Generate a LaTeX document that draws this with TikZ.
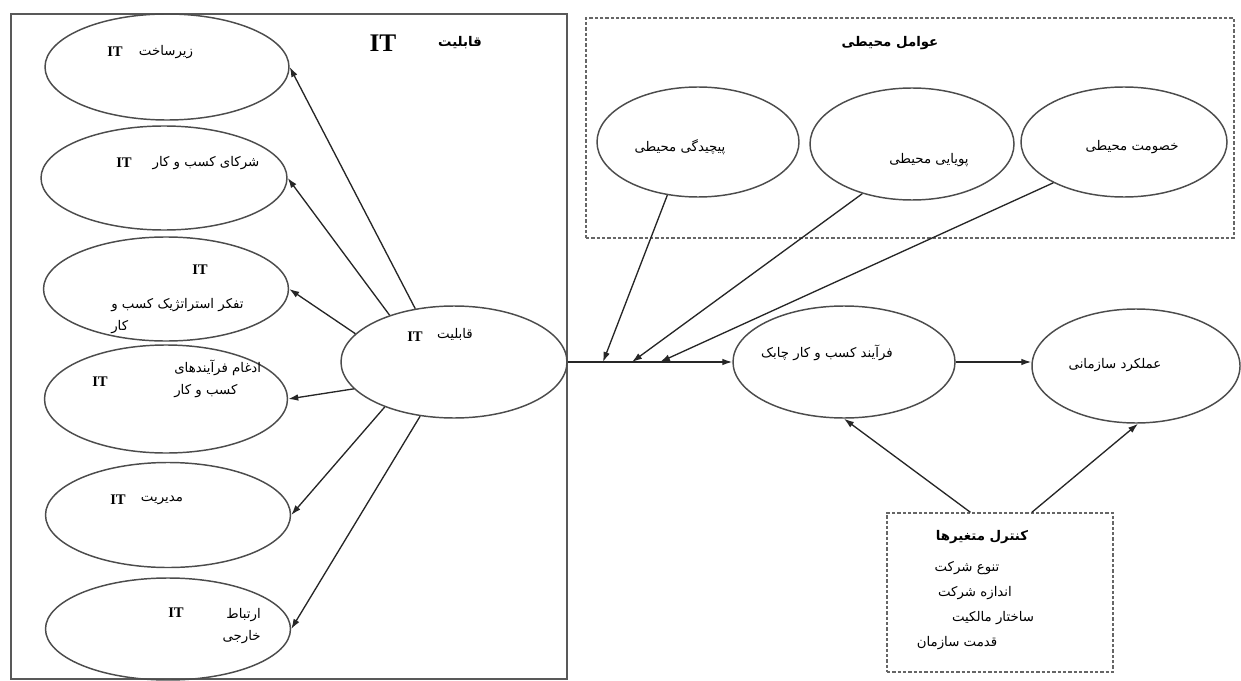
\documentclass[tikz,border=0pt]{standalone}
\usepackage{fontspec}
\usetikzlibrary{shapes,arrows,arrows.meta,positioning,calc}
\newfontfamily\fa[Script=Arabic]{DejaVu Sans}
\newfontfamily\lat{Liberation Serif}
\TeXXeTstate=1
\newcommand{\fat}[1]{{\fa\beginR #1\endR}}
\newcommand{\itx}{{\lat\fontsize{11}{12}\selectfont\bfseries IT}}

\begin{document}
\begin{tikzpicture}[x=0.75pt, y=-0.75pt, >={Latex[length=7.5pt,width=5pt]},
    bubble/.style 2 args={ellipse, draw=black!70, line width=1.1pt, minimum width=#1*0.75pt, minimum height=#2*0.75pt, inner sep=0pt},
    frame/.style 2 args={rectangle, line width=1pt, minimum width=#1*0.75pt, minimum height=#2*0.75pt, inner sep=0pt},
    dashframe/.style={draw=black!60, dash pattern=on 2.5pt off 1.5pt, line width=1pt},
    lbl/.style={font=\fontsize{10}{16.5}\selectfont, inner sep=0pt},
    link/.style={->, line width=1pt, black!85}]

    \useasboundingbox (0,0) rectangle (1241,681);

    % Left block: IT capability
    \node[frame={556}{665}, draw=black!65] (lb) at (289,346.5) {};
    \node[lbl] (ttit) at (383,43) {\lat\fontsize{19}{20}\selectfont\bfseries IT};
    \node[lbl, font=\fontsize{10}{11}\selectfont\bfseries] (ttfa) at (460,43) {\fat{قابلیت}};

    \node[bubble={244}{106}] (e1) at (167,67) {};
    \node[bubble={246}{104}] (e2) at (164,178) {};
    \node[bubble={245}{104}] (e3) at (166,289) {};
    \node[bubble={243}{108}] (e4) at (166,399) {};
    \node[bubble={245}{105}] (e5) at (168,515) {};
    \node[bubble={245}{102}] (e6) at (168,629) {};
    \node[bubble={226}{112}] (ci) at (454,362) {};

    % Labels
    \node[lbl] (e1it) at (115,52) {\itx};
    \node[lbl] (e1tx) at (166,52) {\fat{زیرساخت}};
    \node[lbl] (e2it) at (124,163) {\itx};
    \node[lbl] (e2tx) at (206,163) {\fat{شرکای کسب و کار}};
    \node[lbl] (e3it) at (200,270) {\itx};
    \node[lbl, anchor=west, align=left] (e3tx) at (111,316) {\fat{تفکر استراتژیک کسب و}\\\fat{کار}};
    \node[lbl] (e4it) at (100,382) {\itx};
    \node[lbl, anchor=west, align=left] (e4tx) at (174,379) {\fat{ادغام فرآیندهای}\\\fat{کسب و کار}};
    \node[lbl] (e5it) at (118,500) {\itx};
    \node[lbl] (e5tx) at (162,500) {\fat{مدیریت}};
    \node[lbl] (e6it) at (176,613) {\itx};
    \node[lbl, anchor=east, align=right] (e6tx) at (261,626) {\fat{ارتباط}\\\fat{خارجی}};
    \node[lbl] (ciit) at (415,337) {\itx};
    \node[lbl] (citx) at (455,334) {\fat{قابلیت}};

    % Arrows from IT capability
    \draw[link] (ci.126) -- (e1.east);
    \draw[link] (ci.144) -- (e2.east);
    \draw[link] (ci.164) -- (e3.east);
    \draw[link] (ci.195) -- (e4.east);
    \draw[link] (ci.213) -- (e5.east);
    \draw[link] (ci.238) -- (e6.east);

    % Environmental factors
    \node[frame={648}{220}, dashframe] (eb) at (910,128) {};
    \node[lbl, font=\fontsize{10}{11}\selectfont\bfseries] (ebtx) at (890,43) {\fat{عوامل محیطی}};
    \node[bubble={202}{110}] (pe) at (698,142) {};
    \node[bubble={204}{112}] (py) at (912,144) {};
    \node[bubble={206}{110}] (kh) at (1124,142) {};
    \node[lbl] (petx) at (680,147) {\fat{پیچیدگی محیطی}};
    \node[lbl] (pytx) at (929,160) {\fat{پویایی محیطی}};
    \node[lbl] (khtx) at (1132,147) {\fat{خصومت محیطی}};

    % Main path
    \node[bubble={222}{112}] (fa) at (844,362) {};
    \node[bubble={208}{114}] (ow) at (1136,366) {};
    \node[lbl] (fatx) at (827,353) {\fat{فرآیند کسب و کار چابک}};
    \node[lbl] (owtx) at (1115,365) {\fat{عملکرد سازمانی}};

    \coordinate (j1) at (603,362);
    \coordinate (j2) at (632,362);
    \coordinate (j3) at (660,362);
    \draw[link] (ci.east) -- (fa.west);
    \draw[link] (pe.240) -- (j1);
    \draw[link] (py.225) -- (j2);
    \draw[link] (kh.210) -- (j3);
    \draw[link] (fa.east) -- (fa.east -| ow.west);

    % Control variables
    \node[frame={226}{159}, dashframe] (cv) at (1000,592.5) {};
    \node[lbl, font=\fontsize{10}{11}\selectfont\bfseries] (cvtx) at (982,537) {\fat{کنترل متغیرها}};
    \node[lbl] (cv1) at (967,568) {\fat{تنوع شرکت}};
    \node[lbl] (cv2) at (975,593) {\fat{اندازه شرکت}};
    \node[lbl] (cv3) at (993,618) {\fat{ساختار مالکیت}};
    \node[lbl] (cv4) at (957,643) {\fat{قدمت سازمان}};

    \draw[link] ($(cv.north west)!0.37!(cv.north east)$) -- (fa.south);
    \draw[link] ($(cv.north west)!0.64!(cv.north east)$) -- (ow.-88);
\end{tikzpicture}
\end{document}
